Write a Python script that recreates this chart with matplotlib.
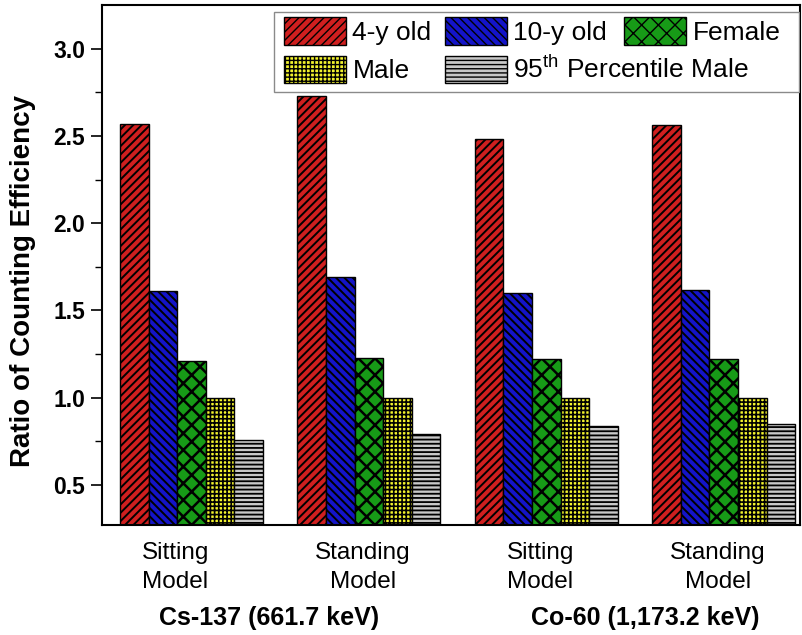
import matplotlib
matplotlib.use("Agg")
import matplotlib.pyplot as plt
import matplotlib.transforms as mtransforms
from matplotlib.patches import Rectangle
import numpy as np

plt.rcParams['font.family'] = ['Liberation Sans', 'DejaVu Sans']

groups = ["Sitting\nModel", "Standing\nModel", "Sitting\nModel", "Standing\nModel"]
sources = ["Cs-137 (661.7 keV)", "Co-60 (1,173.2 keV)"]
series = ["4-y old", "10-y old", "Female", "Male", "95$^{\\mathregular{th}}$ Percentile Male"]

age4 = [2.57, 2.73, 2.48, 2.56]
age10 = [1.61, 1.69, 1.60, 1.62]
female = [1.21, 1.23, 1.22, 1.22]
male = [1.00, 1.00, 1.00, 1.00]
p95male = [0.76, 0.79, 0.84, 0.85]

values = [age4, age10, female, male, p95male]
colors = ["#D01F1F", "#1414C8", "#179A17", "#F2F22E", "#C8C8C8"]
hatches = ["////", "\\\\\\\\", "xx", "++++", "----"]
hatch_lw = [1.4, 1.4, 1.8, 1.2, 1.3]

fig = plt.figure(figsize=(8.02, 6.35), dpi=100)
ax = fig.add_axes([0.127, 0.173, 0.8705, 0.819])

x = np.arange(1, len(groups) + 1)
w = 0.161
bars = []
for i, (vals, c, h, lab, hl) in enumerate(zip(values, colors, hatches, series, hatch_lw)):
    with plt.rc_context({'hatch.linewidth': hl}):
        b = ax.bar(x + (i - 2) * w, vals, width=w, color=c, hatch=h,
                   edgecolor="black", linewidth=1.0, label=lab)
    bars.append(b)

ax.set_ylim(0.27, 3.25)
ax.set_xlim(0.495, 4.43)
ax.set_yticks([0.5, 1.0, 1.5, 2.0, 2.5, 3.0])
ax.set_yticks(np.arange(0.75, 3.25, 0.5), minor=True)
ax.yaxis.set_major_formatter(matplotlib.ticker.FormatStrFormatter('%.1f'))
for lbl in ax.get_yticklabels():
    lbl.set_fontweight('bold')
ax.tick_params(axis='y', which='major', direction='out', length=8, width=1.2,
               labelsize=16.5, pad=4)
ax.tick_params(axis='y', which='minor', direction='out', length=5, width=1.0)
ax.set_xticks(x)
ax.set_xticklabels(groups, fontsize=17.5, linespacing=1.4)
ax.tick_params(axis='x', length=0, pad=12)
offsets_px = [-16, -6, -6, -6]
for lbl, dx in zip(ax.get_xticklabels(), offsets_px):
    lbl.set_transform(lbl.get_transform() + mtransforms.ScaledTranslation(dx / 100, 0, fig.dpi_scale_trans))

for s in ax.spines.values():
    s.set_linewidth(1.5)

ax.set_ylabel("Ratio of Counting Efficiency", fontsize=20, fontweight='bold')
ax.yaxis.set_label_coords(-0.095, 0.47)

src_x = [1.44, 3.555]
for sx, st in zip(src_x, sources):
    ax.text(sx, 0.027, st, transform=mtransforms.blended_transform_factory(ax.transData, fig.transFigure),
            ha='center', va='center', fontsize=18, fontweight='bold')

# legend frame
frame = Rectangle((0.2464, 0.8327), 0.752, 0.1538, transform=ax.transAxes,
                  facecolor='white', edgecolor='#8a8a8a', linewidth=1.0, zorder=4)
ax.add_patch(frame)

handles = [b.patches[0] for b in bars]
leg_kw = dict(fontsize=19, handlelength=2.35, handleheight=1.25, handletextpad=0.25,
              columnspacing=0.5, labelspacing=0.4, borderpad=0.0, borderaxespad=0.0,
              frameon=False, loc='upper left')
order = [0, 3, 1, 4]
leg1 = ax.legend([handles[k] for k in order], [series[k] for k in order], ncol=2,
                 bbox_to_anchor=(0.2607, 0.977), **leg_kw)
leg1.set_zorder(5)
ax.add_artist(leg1)
leg2 = ax.legend([handles[2]], [series[2]], ncol=1,
                 bbox_to_anchor=(0.7479, 0.977), **leg_kw)
leg2.set_zorder(5)

fig.savefig("out.png", dpi=100)
